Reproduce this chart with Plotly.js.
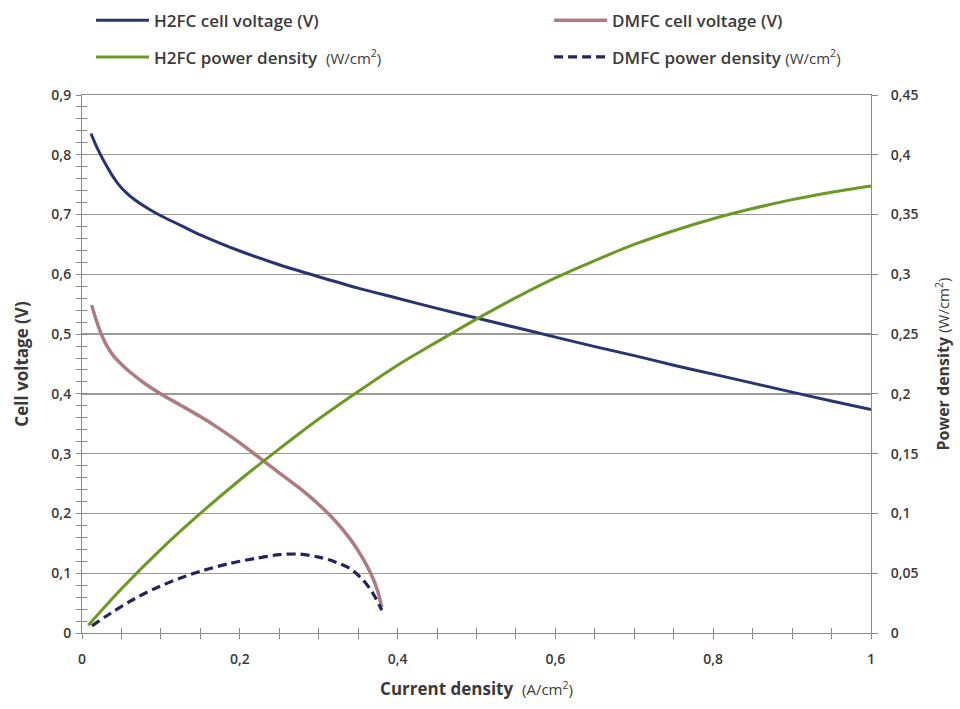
<!DOCTYPE html>
<html>
<head>
<meta charset="utf-8">
<script src="https://cdn.plot.ly/plotly-3.0.1.min.js"></script>
<style>html,body{margin:0;padding:0;background:#fff;}#chart{width:960px;height:709px;}</style>
</head>
<body>
<div id="chart"></div>
<script>
// H2FC cell voltage (V) vs current density (A/cm2)
const h2fcX = [0.0114, 0.017, 0.0228, 0.03, 0.038, 0.046, 0.055, 0.066, 0.0862, 0.1, 0.125, 0.15, 0.2, 0.25, 0.3, 0.35, 0.4, 0.45, 0.5, 0.55, 0.6, 0.65, 0.7, 0.75, 0.8, 0.85, 0.9, 0.95, 1.0];
const h2fcV = [0.8356, 0.818, 0.802, 0.784, 0.766, 0.751, 0.738, 0.7255, 0.708, 0.698, 0.682, 0.666, 0.639, 0.616, 0.596, 0.577, 0.560, 0.543, 0.527, 0.511, 0.495, 0.479, 0.464, 0.448, 0.433, 0.418, 0.403, 0.388, 0.374];
// H2FC power density (W/cm2)
const h2fcPX = [0.008, 0.05, 0.1, 0.15, 0.2, 0.25, 0.3, 0.35, 0.4, 0.45, 0.5, 0.55, 0.6, 0.65, 0.7, 0.75, 0.8, 0.85, 0.9, 0.95, 1.0];
const h2fcP = [0.0065, 0.037, 0.070, 0.100, 0.128, 0.154, 0.179, 0.202, 0.224, 0.2435, 0.2625, 0.2805, 0.297, 0.3115, 0.325, 0.3365, 0.3465, 0.355, 0.3625, 0.3687, 0.374];
// DMFC cell voltage (V)
const dmfcX = [0.0123, 0.018, 0.0237, 0.031, 0.0397, 0.05, 0.06, 0.08, 0.1, 0.125, 0.15, 0.175, 0.2, 0.225, 0.25, 0.275, 0.3, 0.32, 0.34, 0.355, 0.367, 0.375, 0.38];
const dmfcV = [0.5485, 0.5235, 0.5025, 0.4815, 0.464, 0.4495, 0.4375, 0.417, 0.400, 0.381, 0.362, 0.341, 0.318, 0.293, 0.268, 0.243, 0.215, 0.189, 0.157, 0.127, 0.097, 0.069, 0.043];
// DMFC power density (W/cm2)
const dmfcPX = [0.0127, 0.03, 0.06, 0.09, 0.124, 0.155, 0.188, 0.22, 0.25, 0.275, 0.3, 0.32, 0.34, 0.356, 0.368, 0.38];
const dmfcP = [0.006, 0.0138, 0.0262, 0.0365, 0.0458, 0.0526, 0.0583, 0.0624, 0.0655, 0.0660, 0.0635, 0.0597, 0.0538, 0.0445, 0.034, 0.019];

const xTickVals = [0, 0.2, 0.4, 0.6, 0.8, 1];

const FONT = '"Open Sans", Lato, sans-serif';
const TXT = '#3a3a3a';
const AXC = '#8a8a8a';
const UNIT = s => '<span style="font-weight:400;font-size:15px">' + s + '</span>';

const traces = [
  {x: h2fcX, y: h2fcV, yaxis: 'y', mode: 'lines', line: {color: '#28346f', width: 3, shape: 'spline', smoothing: 0.8},
   name: 'H2FC cell voltage (V)', legend: 'legend'},
  {x: dmfcX, y: dmfcV, yaxis: 'y', mode: 'lines', line: {color: '#ad7c80', width: 3.5, shape: 'spline', smoothing: 0.8},
   name: 'DMFC cell voltage (V)', legend: 'legend2'},
  {x: h2fcPX, y: h2fcP, yaxis: 'y2', mode: 'lines', line: {color: '#6c9824', width: 3, shape: 'spline', smoothing: 0.8},
   name: 'H2FC power density  ' + UNIT('(W/cm<sup>2</sup>)'), legend: 'legend3'},
  {x: dmfcPX, y: dmfcP, yaxis: 'y2', mode: 'lines', line: {color: '#23245c', width: 3.2, dash: '9px,5px', shape: 'spline', smoothing: 0.8},
   name: 'DMFC power density ' + UNIT('(W/cm<sup>2</sup>)'), legend: 'legend4'},
  // empty helper trace so the crossing-tick overlay axes get drawn
  {x: [], y: [], xaxis: 'x2', yaxis: 'y3', mode: 'lines', showlegend: false, hoverinfo: 'skip'}
];

function leg(x, y) {
  return {x: x, y: y, xanchor: 'left', yanchor: 'middle', bgcolor: 'rgba(0,0,0,0)',
          font: {family: FONT, size: 17, color: TXT, weight: 600}, itemwidth: 53, borderwidth: 0};
}

const tickFont = {family: FONT, size: 14, color: TXT, weight: 600};

const layout = {
  width: 960, height: 709,
  paper_bgcolor: '#ffffff', plot_bgcolor: '#ffffff',
  margin: {l: 82, r: 89, t: 95, b: 76, autoexpand: false},
  separators: ',.',
  font: {family: FONT, size: 14, color: TXT},
  showlegend: true,
  legend: leg(0.0114, 1.138),
  legend2: leg(0.592, 1.138),
  legend3: leg(0.0114, 1.070),
  legend4: leg(0.592, 1.070),
  xaxis: {
    range: [0, 1], tickvals: xTickVals, ticks: 'outside', ticklen: 5, tickcolor: AXC,
    showline: true, mirror: true, linecolor: AXC, linewidth: 1, showgrid: false, zeroline: false,
    tickfont: tickFont, ticklabelstandoff: 8,
    minor: {dtick: 0.05, ticks: 'outside', ticklen: 5, tickcolor: AXC, showgrid: false},
    title: {text: '<b>Current density</b>  ' + UNIT('(A/cm<sup>2</sup>)'), font: {family: FONT, size: 17, color: TXT}, standoff: 16}
  },
  xaxis2: {
    range: [0, 1], overlaying: 'x', anchor: 'y', side: 'bottom', tickvals: xTickVals, ticks: 'inside', ticklen: 5,
    tickcolor: AXC, showticklabels: false, showline: false, showgrid: false, zeroline: false,
    minor: {dtick: 0.05, ticks: 'inside', ticklen: 5, tickcolor: AXC, showgrid: false}
  },
  yaxis: {
    range: [0, 0.9], dtick: 0.1, ticks: 'outside', ticklen: 5, tickcolor: AXC,
    showline: true, linecolor: AXC, linewidth: 1, showgrid: true, gridcolor: '#9a9a9a', gridwidth: 1.3,
    zeroline: false, tickfont: tickFont, ticklabelstandoff: 2,
    minor: {dtick: 0.02, ticks: 'outside', ticklen: 5, tickcolor: AXC, showgrid: false},
    title: {text: '<b>Cell voltage (V)</b>', font: {family: FONT, size: 17, color: TXT}, standoff: 18}
  },
  yaxis3: {
    range: [0, 0.9], overlaying: 'y', anchor: 'x', side: 'left', dtick: 0.1, ticks: 'inside', ticklen: 5,
    tickcolor: AXC, showticklabels: false, showline: false, showgrid: false, zeroline: false,
    minor: {dtick: 0.02, ticks: 'inside', ticklen: 5, tickcolor: AXC, showgrid: false}
  },
  yaxis2: {
    range: [0, 0.45], dtick: 0.05, overlaying: 'y', side: 'right', anchor: 'x', ticks: 'outside', ticklen: 6,
    tickcolor: AXC, showline: true, linecolor: AXC, linewidth: 1, showgrid: false, zeroline: false,
    tickfont: tickFont, ticklabelstandoff: 10,
    title: {text: '<b>Power density</b> ' + UNIT('(W/cm<sup>2</sup>)'), font: {family: FONT, size: 16, color: TXT}, standoff: 20}
  }
};

Plotly.newPlot('chart', traces, layout, {displayModeBar: false, staticPlot: true});
</script>
</body>
</html>
